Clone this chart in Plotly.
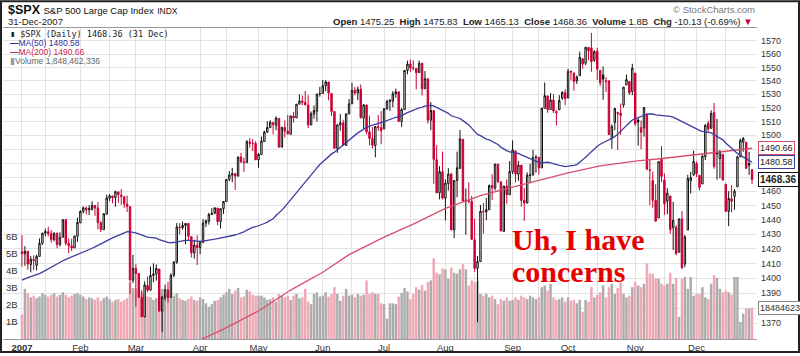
import numpy as np
import pandas as pd
import plotly.graph_objects as go

# ---------------- data ----------------
HOLIDAYS = ['2007-01-15', '2007-02-19', '2007-04-06', '2007-05-28',
            '2007-07-04', '2007-09-03', '2007-11-22', '2007-12-25']
dates = [d.strftime('%Y-%m-%d') for d in pd.bdate_range('2007-01-03', '2007-12-31')
         if d.strftime('%Y-%m-%d') not in HOLIDAYS]

# closes of the last 49 sessions of 2006 (needed for the 50-day average)
closes_2006 = [1368.60, 1377.02, 1377.38, 1382.22, 1389.08, 1377.34, 1377.93, 1377.94,
               1367.81, 1367.34, 1364.30, 1379.78, 1382.84, 1385.72, 1378.33, 1380.90, 1384.42,
               1393.22, 1396.57, 1399.76, 1401.20, 1400.50, 1402.81, 1406.09, 1400.95, 1381.96,
               1386.72, 1399.48, 1400.63,
               1396.71, 1409.12, 1414.76, 1412.90, 1407.29, 1409.84, 1413.04, 1411.56, 1413.21,
               1425.49, 1427.09, 1422.48, 1425.55, 1423.53, 1418.30, 1410.76, 1416.90, 1426.84,
               1424.73, 1418.30]

opens = [
 1418.03,1416.60,1418.34,1409.26,1412.84,1408.70,1414.84,1423.82,1430.73,1431.77,1430.59,1426.35,1430.47,1422.95,1427.96,1440.12,1423.90,1422.03,1420.61,1428.65,
 1437.90,1445.94,1448.33,1446.98,1447.41,1449.99,1448.25,1438.00,1433.22,1443.91,1455.15,1456.77,1455.53,1459.60,1457.29,1456.22,1451.04,1449.25,1398.64,
 1406.80,1403.16,1387.11,1374.06,1395.02,1391.88,1401.89,1402.80,1406.23,1377.86,1387.11,1392.28,1386.95,1402.04,1410.92,1435.04,1434.54,1436.11,1437.49,1428.35,1417.17,1422.52,
 1420.83,1424.27,1437.75,1438.94,1443.77,1444.58,1448.23,1438.87,1447.80,1452.84,1468.47,1471.47,1472.48,1470.69,1484.33,1480.93,1480.28,1495.27,1494.21,1494.07,
 1482.37,1486.13,1495.56,1502.35,1505.57,1509.36,1507.32,1512.33,1491.47,1505.76,1503.11,1500.75,1514.01,1512.74,1522.75,1525.10,1524.09,1522.10,1507.50,1515.55,1517.60,1530.19,
 1530.62,1536.28,1539.12,1530.57,1517.36,1490.71,1507.64,1509.12,1492.65,1515.58,1522.97,1532.90,1531.02,1533.68,1512.50,1522.19,1502.56,1497.68,1492.62,1506.32,1505.70,
 1504.66,1519.12,1524.86,1524.96,1530.43,1531.85,1510.09,1518.74,1547.68,1552.50,1549.52,1549.20,1546.13,1553.19,1534.06,1541.57,1511.03,1518.09,1482.44,1458.93,1473.90,
 1455.18,1465.46,1472.18,1433.04,1467.62,1476.22,1497.21,1453.09,1453.42,1452.87,1426.15,1406.64,1411.26,1445.94,1445.55,1447.03,1464.05,1462.34,1479.36,1466.72,1432.01,1463.67,1457.61,
 1473.96,1488.76,1472.03,1478.55,1453.50,1451.69,1471.10,1471.47,1483.95,1484.24,1476.63,1519.75,1528.69,1518.75,1525.75,1516.34,1518.62,1527.32,1531.24,
 1527.29,1546.96,1545.80,1539.91,1543.84,1556.51,1553.18,1564.98,1564.72,1555.41,1562.25,1547.81,1544.44,1539.29,1540.00,1497.79,1509.30,1516.61,1516.15,1522.17,1536.92,1539.42,1532.15,
 1545.79,1511.07,1505.61,1505.33,1515.46,1475.27,1467.59,1453.66,1441.35,1483.40,1468.04,1453.09,1456.70,1434.51,1434.71,1417.62,1440.74,1409.59,1432.95,1467.41,1471.83,
 1479.63,1471.34,1465.22,1484.59,1508.60,1505.11,1516.68,1487.58,1483.27,1486.19,1465.05,1445.92,1454.70,1456.42,1463.19,1484.55,1495.12,1495.05,1479.83,1475.25]

highs = [
 1429.42,1421.84,1418.34,1414.98,1415.61,1415.99,1427.12,1431.23,1433.93,1435.27,1432.96,1431.57,1431.39,1431.33,1440.14,1440.69,1427.27,1426.94,1428.82,1441.61,
 1446.64,1449.33,1449.38,1450.19,1452.99,1450.45,1452.45,1439.11,1444.41,1457.65,1457.97,1456.77,1460.53,1459.60,1461.57,1456.22,1456.95,1449.25,1415.89,
 1409.46,1403.40,1391.86,1397.90,1401.16,1407.93,1410.15,1409.34,1406.23,1388.09,1395.73,1397.51,1403.20,1411.53,1437.77,1437.66,1438.89,1437.65,1437.49,1428.35,1426.24,1429.22,
 1425.49,1440.57,1440.16,1444.88,1448.10,1448.73,1448.39,1448.02,1453.11,1468.62,1474.35,1476.57,1472.48,1484.74,1487.32,1483.82,1496.59,1498.02,1497.32,1495.72,
 1487.27,1499.10,1503.34,1510.34,1511.00,1509.36,1513.80,1512.33,1506.24,1510.90,1514.83,1514.15,1517.14,1522.75,1529.87,1529.24,1532.43,1529.31,1517.41,1521.80,1530.23,1535.56,
 1540.56,1540.53,1539.12,1530.57,1517.36,1507.76,1515.53,1511.33,1515.70,1526.45,1538.71,1535.44,1535.85,1537.32,1522.90,1522.19,1514.29,1506.12,1506.80,1514.84,1517.53,
 1519.45,1526.01,1526.57,1532.40,1534.26,1531.85,1519.85,1547.92,1555.10,1555.90,1555.32,1549.20,1555.20,1553.19,1547.23,1541.57,1524.31,1518.09,1492.89,1477.88,1488.30,
 1468.38,1476.43,1473.23,1467.95,1488.30,1503.89,1497.21,1462.02,1466.29,1456.74,1440.78,1415.12,1450.33,1451.75,1455.32,1464.86,1472.06,1479.40,1479.36,1466.72,1463.76,1468.43,1481.47,
 1496.40,1488.76,1481.49,1478.55,1462.25,1473.43,1479.50,1489.58,1485.99,1484.24,1519.89,1538.74,1529.14,1530.89,1530.18,1518.27,1529.39,1532.46,1533.74,
 1549.02,1548.01,1546.30,1544.02,1561.91,1556.51,1565.26,1565.42,1576.09,1563.03,1564.74,1547.81,1550.66,1542.79,1540.00,1508.06,1520.01,1517.23,1523.24,1535.53,1544.67,1539.42,1552.76,
 1545.79,1513.15,1510.84,1520.77,1515.46,1482.50,1474.09,1464.94,1481.37,1492.14,1472.67,1462.18,1456.70,1452.64,1436.40,1440.86,1446.09,1429.49,1471.62,1473.81,1488.94,
 1481.16,1471.34,1486.09,1508.02,1510.63,1518.27,1523.57,1511.96,1489.40,1486.67,1465.05,1460.16,1464.42,1461.53,1485.40,1497.63,1498.85,1495.05,1488.01,1475.83]

lows = [
 1407.86,1408.43,1405.75,1403.97,1405.42,1405.32,1414.84,1422.58,1428.62,1428.57,1424.21,1425.19,1420.40,1421.66,1427.96,1422.34,1416.96,1418.46,1420.61,1424.78,
 1437.90,1444.49,1443.85,1443.40,1446.44,1442.81,1433.44,1431.44,1433.22,1443.91,1453.19,1451.57,1449.20,1452.02,1450.51,1448.36,1445.48,1389.42,1396.65,
 1380.87,1386.87,1373.97,1374.06,1390.64,1391.88,1397.30,1398.40,1377.71,1363.98,1385.16,1383.63,1386.95,1400.70,1409.75,1429.88,1433.21,1423.28,1425.54,1414.07,1413.27,1408.90,
 1416.37,1424.27,1435.08,1436.67,1443.28,1443.99,1436.15,1433.91,1444.15,1452.84,1467.15,1466.41,1460.87,1470.69,1480.19,1473.74,1480.28,1491.17,1488.67,1482.29,
 1476.70,1486.13,1495.56,1501.80,1505.54,1500.66,1503.77,1491.42,1491.47,1498.34,1500.43,1500.75,1509.29,1512.74,1522.71,1522.05,1521.90,1505.18,1507.50,1512.02,1510.06,1528.26,
 1530.62,1532.31,1525.62,1514.13,1490.37,1487.41,1503.35,1492.97,1492.65,1515.58,1522.97,1529.31,1525.67,1512.36,1504.75,1500.74,1492.68,1490.54,1484.18,1503.41,1493.61,
 1504.66,1519.12,1517.72,1520.47,1527.45,1510.01,1506.10,1518.74,1544.85,1546.69,1547.74,1533.67,1546.13,1529.20,1534.06,1508.62,1503.73,1465.30,1458.57,1454.32,1454.25,
 1439.59,1460.58,1432.80,1427.39,1455.80,1476.22,1453.09,1429.74,1451.54,1426.20,1404.36,1370.60,1411.26,1430.54,1439.76,1447.03,1453.88,1460.54,1465.98,1432.01,1432.01,1451.25,1457.61,
 1472.15,1466.34,1467.41,1449.07,1439.29,1451.69,1465.75,1471.47,1473.18,1471.82,1476.63,1519.75,1516.42,1518.75,1516.15,1507.13,1518.62,1525.81,1521.99,
 1527.25,1540.37,1532.67,1537.63,1543.84,1549.00,1551.82,1555.46,1546.72,1554.09,1540.81,1536.29,1526.01,1531.76,1500.26,1490.40,1503.61,1489.56,1500.46,1520.18,1536.92,1529.55,1529.40,
 1506.66,1492.53,1489.95,1499.07,1475.04,1450.31,1448.51,1438.53,1441.35,1466.47,1443.49,1443.99,1430.42,1419.28,1415.64,1417.62,1406.10,1407.43,1432.95,1458.36,1470.89,
 1470.08,1460.66,1465.22,1482.19,1502.66,1504.96,1475.99,1468.23,1469.21,1467.78,1445.43,1435.65,1445.31,1447.22,1463.19,1484.55,1488.20,1475.86,1471.70,1465.13]

closes = [
 1416.60,1418.34,1409.71,1412.84,1412.11,1414.85,1423.82,1430.73,1431.90,1430.62,1426.37,1430.50,1422.95,1427.99,1440.13,1423.90,1422.18,1420.62,1428.82,1438.24,
 1445.94,1448.39,1446.99,1448.00,1450.02,1448.31,1438.06,1433.37,1444.26,1455.30,1456.81,1455.54,1459.68,1457.63,1456.38,1451.19,1449.37,1399.04,1406.82,
 1403.17,1387.17,1374.12,1395.41,1391.97,1401.89,1402.84,1406.60,1377.95,1387.17,1392.28,1386.95,1402.06,1410.94,1435.04,1434.54,1436.11,1437.50,1428.61,1417.23,1422.53,1420.86,
 1424.55,1437.77,1439.37,1443.76,1444.61,1448.39,1438.87,1447.80,1452.85,1468.33,1471.48,1472.50,1470.73,1484.35,1480.93,1480.41,1495.42,1494.25,1494.07,1482.37,
 1486.30,1495.92,1502.39,1505.62,1509.48,1507.72,1512.58,1491.47,1505.85,1503.15,1501.19,1514.14,1512.75,1522.75,1525.10,1524.12,1522.28,1507.51,1515.73,1518.11,1530.23,1530.62,
 1536.34,1539.18,1530.95,1517.38,1490.72,1507.67,1509.12,1493.00,1515.67,1522.97,1532.91,1531.05,1533.70,1512.84,1522.19,1502.56,1497.74,1492.89,1506.34,1505.71,1503.35,
 1519.43,1524.87,1525.40,1530.44,1531.85,1510.12,1518.76,1547.70,1552.50,1549.52,1549.37,1546.17,1553.08,1534.10,1541.57,1511.04,1518.09,1482.66,1458.95,1473.91,1455.27,
 1465.81,1472.20,1433.06,1467.67,1476.71,1497.49,1453.09,1453.64,1452.92,1426.54,1406.70,1411.27,1445.94,1445.55,1447.12,1464.07,1462.50,1479.37,1466.79,1432.36,1463.76,1457.64,1473.99,
 1489.42,1472.29,1478.55,1453.55,1451.70,1471.49,1471.56,1483.95,1484.25,1476.65,1519.78,1529.03,1518.75,1525.75,1517.73,1517.21,1525.42,1531.38,1526.75,
 1547.04,1546.63,1539.59,1542.84,1557.59,1552.58,1565.15,1562.47,1554.41,1561.80,1548.71,1538.53,1541.24,1540.08,1500.63,1506.33,1519.59,1515.88,1514.40,1535.28,1540.98,1531.02,1549.38,
 1508.44,1509.65,1502.17,1520.27,1475.62,1474.77,1453.70,1439.18,1481.05,1470.58,1451.15,1458.74,1433.27,1439.70,1416.77,1440.70,1407.22,1428.23,1469.02,1469.72,1481.14,
 1472.42,1462.79,1485.01,1507.34,1504.66,1515.96,1477.65,1486.59,1488.41,1467.95,1445.90,1454.98,1453.00,1460.12,1484.46,1496.45,1497.66,1476.27,1478.49,1468.36]

# daily volume, billions of shares
volume_b = [
 1.45,2.95,2.70,2.45,2.55,2.40,2.50,2.70,2.60,2.50,2.60,2.70,2.50,2.60,2.75,2.60,2.45,2.55,2.65,2.70,
 2.60,2.50,2.35,2.45,2.40,2.30,2.45,2.25,2.40,2.50,2.35,2.20,2.30,2.35,2.20,2.30,2.40,3.30,3.00,
 3.00,2.90,2.75,2.60,2.50,2.45,2.30,2.40,2.85,2.95,2.60,2.75,2.40,2.55,2.70,2.40,2.30,2.25,2.35,2.50,2.30,2.25,
 2.45,2.35,2.10,1.90,2.05,2.25,2.30,2.45,2.60,2.75,2.95,2.65,2.85,3.00,2.45,2.50,2.90,2.80,2.60,2.55,
 2.55,2.55,2.45,2.30,2.35,2.45,2.20,2.65,2.55,2.45,2.55,2.30,2.55,2.65,2.40,2.45,2.95,2.20,2.05,2.65,2.75,2.50,
 2.55,2.75,2.50,2.65,3.05,2.65,2.25,2.55,2.95,2.55,2.60,2.45,2.65,2.55,2.60,3.45,2.65,2.75,2.65,2.65,2.10,
 2.05,1.20,2.10,2.10,2.05,2.50,2.70,3.00,2.80,2.35,2.65,3.05,2.90,3.20,2.85,3.35,3.45,4.75,3.90,3.80,4.15,
 4.10,3.55,4.20,3.90,3.85,4.10,4.40,4.10,3.15,3.45,3.35,3.40,2.65,2.55,2.65,2.45,2.55,2.35,2.05,2.35,2.25,2.45,2.25,
 2.30,2.45,2.30,2.55,2.45,2.35,2.55,2.45,2.35,2.45,3.05,3.15,2.85,3.25,2.45,2.30,2.35,2.45,2.20,
 2.45,2.25,2.30,2.10,2.30,1.60,2.30,2.20,3.05,2.45,2.60,2.75,3.15,2.45,3.05,3.25,2.65,3.00,3.35,2.65,2.45,2.55,3.05,
 3.35,3.15,3.05,3.25,4.45,3.85,3.85,3.55,3.55,3.25,3.15,3.25,3.90,3.25,3.60,1.30,3.55,3.65,2.95,3.65,2.55,
 2.65,2.65,3.05,2.45,2.35,3.25,3.75,3.60,2.95,2.75,2.85,2.75,2.60,3.65,3.65,1.00,1.50,1.80,1.80,1.848462336]
last_volume = 1848462336

# 200-day average
ma200_dates = ['2007-03-16', '2007-04-02', '2007-04-13', '2007-05-01', '2007-05-16', '2007-06-01',
               '2007-06-14', '2007-07-02', '2007-07-17', '2007-08-01', '2007-08-17', '2007-09-04',
               '2007-10-01', '2007-10-16', '2007-11-01', '2007-11-15', '2007-12-03', '2007-12-14',
               '2007-12-31']
ma200_vals = [1349, 1359, 1366, 1378, 1392, 1404, 1416, 1428, 1437, 1448, 1457, 1463,
              1473, 1478, 1481.5, 1483.5, 1486, 1488.5, 1490.66]

month_starts = ['2007-01-03', '2007-02-01', '2007-03-01', '2007-04-02', '2007-05-01', '2007-06-01',
                '2007-07-02', '2007-08-01', '2007-09-04', '2007-10-01', '2007-11-01', '2007-12-03']
month_labels = ['<b>2007</b>', 'Feb', 'Mar', 'Apr', 'May', 'Jun', 'Jul', 'Aug', 'Sep', 'Oct', 'Nov', 'Dec']
mid_months = ['2007-01-16', '2007-02-15', '2007-03-15', '2007-04-16', '2007-05-15', '2007-06-15',
              '2007-07-16', '2007-08-15', '2007-09-17', '2007-10-15', '2007-11-15', '2007-12-17']
price_ticks = [1370, 1380, 1390, 1400, 1410, 1420, 1430, 1440, 1450, 1460, 1470, 1480, 1490,
               1500, 1510, 1520, 1530, 1540, 1550, 1560, 1570]
hidden_price_labels = [1380, 1470, 1480, 1490]
vol_ticks = [1, 2, 3, 4, 5, 6]

# ---------------- derived ----------------
ma50 = pd.Series(closes_2006 + closes).rolling(50).mean().iloc[len(closes_2006):].tolist()
prev_close = [closes_2006[-1]] + closes[:-1]
down = [c < p for c, p in zip(closes, prev_close)]

RED = 'rgb(204,0,51)'
BLACK = '#111111'
PINK = 'rgb(240,168,180)'
GREY = 'rgb(172,172,172)'
GRID = '#e2e2e2'
FONT = 'Liberation Sans, Arial, sans-serif'

fig = go.Figure()

# volume (base axis, drawn underneath)
fig.add_trace(go.Bar(x=dates, y=volume_b, yaxis='y',
                     marker=dict(color=[PINK if d else GREY for d in down], line=dict(width=0)),
                     hoverinfo='skip'))

# candles split by StockCharts colouring (red = close below previous close)
for is_down, col in [(False, BLACK), (True, RED)]:
    idx = [i for i, d in enumerate(down) if d == is_down]
    fig.add_trace(go.Candlestick(
        x=[dates[i] for i in idx], open=[opens[i] for i in idx], high=[highs[i] for i in idx],
        low=[lows[i] for i in idx], close=[closes[i] for i in idx], yaxis='y2',
        increasing=dict(line=dict(color=col, width=1), fillcolor='white'),
        decreasing=dict(line=dict(color=col, width=1), fillcolor=col),
        whiskerwidth=0, hoverinfo='skip'))

fig.add_trace(go.Scatter(x=ma200_dates, y=ma200_vals, yaxis='y2', mode='lines',
                         line=dict(color='rgb(214,80,110)', width=1.3), hoverinfo='skip'))
fig.add_trace(go.Scatter(x=dates, y=ma50, yaxis='y2', mode='lines',
                         line=dict(color='rgb(60,60,160)', width=1.3), hoverinfo='skip'))

W, H, L, R, T, B = 800, 356, 3, 43, 28, 15
PW, PH = W - L - R, H - T - B


def px(x):
    return (x - L) / PW


def py(y):
    return (H - B - y) / PH


def note(text, x, y, size, color='#333', xanchor='left', family=FONT):
    return dict(text=text, xref='paper', yref='paper', x=px(x), y=py(y), xanchor=xanchor,
                yanchor='middle', showarrow=False, font=dict(size=size, color=color, family=family))


NB = '\u00a0'
o, h, lo, c = opens[-1], highs[-1], lows[-1], closes[-1]
chg = c - prev_close[-1]
pct = chg / prev_close[-1] * 100
header_right = (f"<b>Open</b> {o:.2f}{NB}{NB}<b>High</b> {h:.2f}{NB}{NB}<b>Low</b> {lo:.2f}{NB}{NB}"
                f"<b>Close</b> {c:.2f}{NB}{NB}<b>Volume</b> {last_volume/1e9:.1f}B{NB}{NB}"
                f"<b>Chg</b> {chg:.2f} ({pct:.2f}%) <span style='color:{RED}'>▼</span>")

SERIF = 'Liberation Serif, Times New Roman, serif'
annotations = [
    note("<b>$SPX</b> <span style='font-size:9.5px'>S&P 500 Large Cap Index</span> "
         "<span style='font-size:8.5px'>INDX</span>", 6, 10, 12.5, '#111'),
    note("31-Dec-2007", 6, 21.5, 9.5, '#222'),
    note(header_right, 755, 21.5, 9.5, '#222', 'right'),
    note("© StockCharts.com", 757, 9.5, 9.5, '#777', 'right'),
    note(f"▮ $SPX (Daily) {c:.2f} (31 Dec)", 8, 34, 8.5, '#222', family='DejaVu Sans Mono, monospace'),
    note(f"<b>—</b>MA(50) {ma50[-1]:.2f}", 8, 43.5, 8.5, 'rgb(50,50,150)'),
    note(f"<b>—</b>MA(200) {ma200_vals[-1]:.2f}", 8, 52.5, 8.5, 'rgb(200,40,80)'),
    note(f"<span style='color:#999'>▮</span>Volume {last_volume:,}", 8, 61.5, 8.5, '#666'),
    note("<b>Uh, I have</b>", 510, 241, 30, 'rgb(230,0,0)', family=SERIF),
    note("<b>concerns</b>", 510, 273, 30, 'rgb(230,0,0)', family=SERIF),
]

# boxed value labels on the right axis
for val, border, bold in [(ma200_vals[-1], 'rgb(214,80,110)', False),
                          (ma50[-1], 'rgb(60,60,160)', False),
                          (c, '#111', True)]:
    annotations.append(dict(text=(f"<b>{val:.2f}</b>" if bold else f"{val:.2f}"), xref='paper', yref='y2',
                            x=1, y=np.log10(val), xanchor='left', yanchor='middle', xshift=1,
                            showarrow=False, bgcolor='white', bordercolor=border, borderwidth=1,
                            borderpad=1, font=dict(size=10 if bold else 9, color='#222', family=FONT)))
annotations.append(dict(text=f"{last_volume}", xref='paper', yref='y', x=1, y=last_volume / 1e9,
                        xanchor='left', yanchor='middle', xshift=1, showarrow=False, bgcolor='white',
                        bordercolor='#888', borderwidth=1, borderpad=1,
                        font=dict(size=9, color='#333', family=FONT)))

fig.update_layout(
    width=W, height=H, margin=dict(l=L, r=R, t=T, b=B, pad=0),
    paper_bgcolor='white', plot_bgcolor='white', showlegend=False, hovermode=False,
    font=dict(family=FONT, size=9.5, color='#333'), bargap=0.15,
    xaxis=dict(type='category', range=[-6.5, 251.7], tickmode='array',
               tickvals=month_starts + mid_months, ticktext=month_labels + [''] * len(mid_months),
               showgrid=True, gridcolor=GRID, gridwidth=1, ticks='', rangeslider=dict(visible=False),
               showline=True, mirror=True, linecolor='#9a9a9a', linewidth=1,
               tickfont=dict(size=9.5, color='#333'), tickangle=0),
    yaxis=dict(range=[0, 18.3], tickmode='array', tickvals=vol_ticks,
               ticktext=[f"{v}B" for v in vol_ticks], ticklabelposition='inside', ticks='',
               showgrid=False, zeroline=False, showline=False, tickfont=dict(size=9.5, color='#333')),
    yaxis2=dict(type='log', overlaying='y', side='right',
                range=[np.log10(1359.5), np.log10(1579.8)], tickmode='array', tickvals=price_ticks,
                ticktext=['' if t in hidden_price_labels else str(t) for t in price_ticks],
                showgrid=True, gridcolor=GRID, gridwidth=1, ticks='', zeroline=False,
                showline=False, tickfont=dict(size=9, color='#333'), ticklabelstandoff=3),
    annotations=annotations,
    shapes=[dict(type='rect', xref='paper', yref='paper', x0=px(1), x1=px(799), y0=py(354), y1=py(1),
                 line=dict(color='#222', width=2), fillcolor='rgba(0,0,0,0)', layer='above')],
)

fig.write_html("out.html")
